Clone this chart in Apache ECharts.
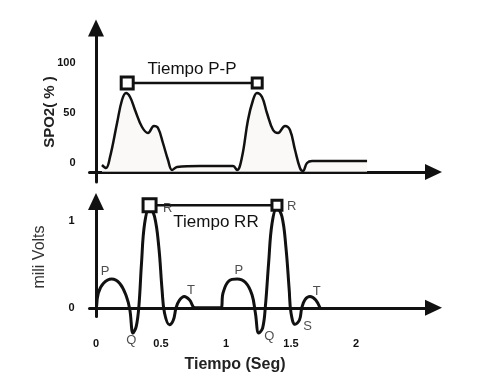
<!DOCTYPE html>
<html><head><meta charset="utf-8">
<script src="https://cdn.jsdelivr.net/npm/echarts@6/dist/echarts.min.js"></script>
<style>html,body{margin:0;padding:0;background:#fff}#c{width:477px;height:385px}</style>
</head><body><div id="c"></div>
<script>
// ---- data ----
var spo2Time  = [0.046,0.077,0.108,0.162,0.2,0.231,0.262,0.3,0.354,0.4,0.446,0.477,0.515,0.554,0.585,0.623,0.8,1.054,1.085,1.123,1.169,1.208,1.238,1.277,1.315,1.362,1.4,1.454,1.492,1.531,1.569,1.592,1.623,1.662,1.823,2.085];
var spo2Value = [-2,-5,6,40,63,70,66,53,36,30,37,35,20,3,-7,-4,-3,-3,-7,6,43,63,70,66,50,33,30,37,33,13,-5,-8,0,2,2,2];
var ecgTime  = [0.005,0.018,0.056,0.12,0.183,0.234,0.26,0.285,0.31,0.33,0.35,0.374,0.412,0.45,0.483,0.508,0.527,0.565,0.595,0.616,0.641,0.679,0.72,0.763,0.96,0.977,1.023,1.086,1.15,1.2,1.226,1.252,1.282,1.303,1.328,1.354,1.392,1.43,1.46,1.486,1.5,1.531,1.565,1.583,1.608,1.646,1.69,1.723];
var ecgValue = [0.02,0.17,0.28,0.33,0.28,0.13,-0.02,-0.29,-0.21,0.02,0.51,0.97,1.15,1.05,0.7,0.21,-0.06,-0.195,-0.14,0,0.085,0.13,0.09,0,0,0.17,0.31,0.33,0.29,0.15,-0.06,-0.29,-0.23,0.02,0.52,0.97,1.15,1.05,0.71,0.21,-0.06,-0.19,-0.14,0,0.095,0.13,0.09,0];
var spo2TickLabels = [0, 50, 100];
var ecgTickLabels  = [0, 1];
var timeTickLabels = [0, 0.5, 1, 1.5, 2];
var ppBracketTime = [0.24, 1.24];
var ppBracketValue = 80;
var rrBracketTime = [0.412, 1.392];
var rrBracketValue = 1.18;
var waveLabels     = ['P','Q','R','T','P','Q','R','S','T'];
var waveLabelTime  = [0.069,0.272,0.552,0.731,1.099,1.334,1.506,1.628,1.697];
var waveLabelValue = [0.42,-0.37,1.14,0.2,0.43,-0.33,1.16,-0.21,0.19];

function zip(a, b) { return a.map(function (v, i) { return [v, b[i]]; }); }
function bracket(ts, v) { return ts.map(function (t) { return [t, v]; }); }

var INK = '#111';
var tickFont = { color: INK, fontSize: 11, fontWeight: 'bold', fontFamily: 'Liberation Sans Narrow, Liberation Sans, Arial' };
var axisLine = { show: true, lineStyle: { color: INK, width: 3 }, symbol: ['none', 'triangle'], symbolSize: [16, 17] };

var chart = echarts.init(document.getElementById('c'), null, { renderer: 'canvas' });
chart.setOption({
  animation: false,
  backgroundColor: '#fff',
  grid: [
    { left: 89.5, top: 28, width: 344, height: 154 },
    { left: 89.5, top: 201.5, width: 344, height: 115 }
  ],
  xAxis: [
    { gridIndex: 0, type: 'value', min: -0.05, max: 2.596, axisLine: Object.assign({}, axisLine, { onZero: false }), offset: -10,
      axisTick: { show: false }, axisLabel: { show: false }, splitLine: { show: false } },
    { gridIndex: 1, type: 'value', min: -0.05, max: 2.596, axisLine: axisLine,
      axisTick: { show: false }, splitLine: { show: false },
      axisLabel: Object.assign({ customValues: timeTickLabels, margin: 22 }, tickFont) }
  ],
  yAxis: [
    { gridIndex: 0, type: 'value', min: -19, max: 135, axisLine: axisLine,
      axisTick: { show: false }, splitLine: { show: false },
      axisLabel: Object.assign({ customValues: spo2TickLabels, margin: 14 }, tickFont) },
    { gridIndex: 1, type: 'value', min: -0.1, max: 1.222, axisLine: axisLine,
      axisTick: { show: false }, splitLine: { show: false },
      axisLabel: Object.assign({ customValues: ecgTickLabels, margin: 15 }, tickFont) }
  ],
  series: [
    { type: 'line', xAxisIndex: 0, yAxisIndex: 0, data: zip(spo2Time, spo2Value), smooth: 0.4, showSymbol: false, clip: false,
      lineStyle: { color: INK, width: 2.5 }, areaStyle: { color: '#f8f7f4', origin: -9 }, z: 3 },
    { type: 'line', xAxisIndex: 0, yAxisIndex: 0, data: bracket(ppBracketTime, ppBracketValue), symbol: 'rect', clip: false,
      symbolSize: function (v, p) { return p.dataIndex === 0 ? 12 : 10; }, showSymbol: true,
      itemStyle: { color: '#fff', borderColor: INK, borderWidth: 3 }, lineStyle: { color: INK, width: 2.5 }, z: 4 },
    { type: 'line', xAxisIndex: 1, yAxisIndex: 1, data: zip(ecgTime, ecgValue), smooth: 0.4, showSymbol: false, clip: false,
      lineStyle: { color: INK, width: 3 }, z: 3 },
    { type: 'line', xAxisIndex: 1, yAxisIndex: 1, data: bracket(rrBracketTime, rrBracketValue), symbol: 'rect', clip: false,
      symbolSize: function (v, p) { return p.dataIndex === 0 ? 13 : 10; }, showSymbol: true,
      itemStyle: { color: '#fff', borderColor: INK, borderWidth: 3 }, lineStyle: { color: INK, width: 2.5 }, z: 4 },
    { type: 'scatter', xAxisIndex: 1, yAxisIndex: 1, symbolSize: 0, clip: false, z: 5,
      data: waveLabels.map(function (n, i) { return { name: n, value: [waveLabelTime[i], waveLabelValue[i]] }; }),
      label: { show: true, position: 'inside', formatter: '{b}', color: '#222', fontSize: 13, fontFamily: 'Liberation Sans, Arial' } }
  ],
  graphic: [
    { type: 'text', x: 50, y: 112, rotation: Math.PI / 2, style: { text: 'SPO2( % )', fill: '#222', font: 'bold 15px Liberation Sans, Arial', align: 'center', verticalAlign: 'middle' } },
    { type: 'text', x: 40, y: 257, rotation: Math.PI / 2, style: { text: 'mili Volts', fill: '#333', font: '16px Liberation Sans, Arial', align: 'center', verticalAlign: 'middle' } },
    { type: 'text', x: 235, y: 365, style: { text: 'Tiempo (Seg)', fill: '#222', font: 'bold 16px Liberation Sans Narrow, Liberation Sans, Arial', align: 'center', verticalAlign: 'middle' } },
    { type: 'text', x: 192, y: 69, style: { text: 'Tiempo P-P', fill: INK, font: '17px Liberation Sans, Arial', align: 'center', verticalAlign: 'middle' } },
    { type: 'text', x: 216, y: 222, style: { text: 'Tiempo RR', fill: INK, font: '17px Liberation Sans, Arial', align: 'center', verticalAlign: 'middle' } }
  ]
});
</script></body></html>
